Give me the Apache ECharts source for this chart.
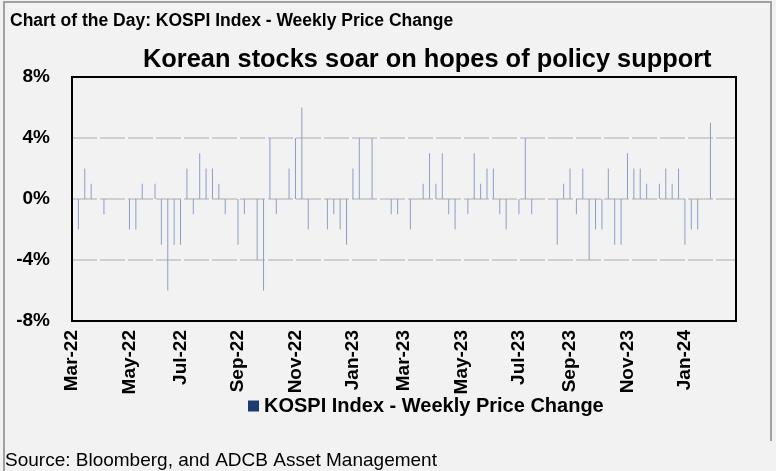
<!DOCTYPE html>
<html>
<head>
<meta charset="utf-8">
<script src="https://cdn.jsdelivr.net/npm/echarts@6/dist/echarts.min.js"></script>
<style>
  html, body { margin: 0; padding: 0; background: #f2f2f2; }
  #chart { width: 776px; height: 471px; }
</style>
</head>
<body>
<div id="chart"></div>
<script>
// weekly KOSPI change (%), Fridays from 4 Mar 2022
let firstWeek = '2022-03-04';
let weekCount = 105;   // axis runs to 1 Mar 2024
let weeklyChange = [
  0, -2, 2, 1, 0, -1, 0, 0, 0, -2,
  -2, 1, 0, 1, -3, -6, -3, -3, 2, -1,
  3, 2, 2, 1, -1, 0, -3, -1, 0, -4,
  -6, 4, -1, 0, 2, 4, 6, -2, 0, 0,
  -2, -1, -2, -3, 2, 4, 0, 4, 0, 0,
  -1, -1, 0, -2, 0, 1, 3, 1, 3, -1,
  -2, 0, -1, 3, 1, 2, 2, -1, -2, 0,
  -1, 4, -1, 0, 0, 0, -3, 1, 2, -1,
  2, -4, -2, -2, 2, -3, -3, 3, 2, 2,
  1, 0, 1, 2, 1, 2, -3, -2, -2, 0,
  5
];
let tickWeeks = ['2022-03-04','2022-05-06','2022-07-01','2022-09-02','2022-11-04','2023-01-06',
                 '2023-03-03','2023-05-05','2023-07-07','2023-09-01','2023-11-03','2024-01-05'];
let tickLabels = ['Mar-22','May-22','Jul-22','Sep-22','Nov-22','Jan-23',
                  'Mar-23','May-23','Jul-23','Sep-23','Nov-23','Jan-24'];
let yTicks = [-8, -4, 0, 4, 8];

let seriesName = 'KOSPI Index - Weekly Price Change';
let font = "'Liberation Sans', Arial, sans-serif";

let weeks = [];
let t0 = Date.parse(firstWeek + 'T00:00:00Z');
for (let i = 0; i < weekCount; i++) {
  weeks.push(new Date(t0 + i * 7 * 86400000).toISOString().slice(0, 10));
}

let myChart = echarts.init(document.getElementById('chart'));

myChart.setOption({
  backgroundColor: '#f2f2f2',
  animation: false,
  textStyle: { fontFamily: font },
  title: [
    {
      text: 'Chart of the Day: KOSPI Index - Weekly Price Change',
      left: 10, top: 12, padding: 0,
      textStyle: { fontSize: 17.5, fontWeight: 'bold', color: '#000', fontFamily: font }
    },
    {
      text: 'Korean stocks soar on hopes of policy support',
      left: 143, top: 47, padding: 0,
      textStyle: { fontSize: 25.4, fontWeight: 'bold', color: '#000', fontFamily: font }
    },
    {
      text: 'Source: Bloomberg, and ADCB Asset Management',
      left: 5, top: 451, padding: 0,
      textStyle: { fontSize: 19, fontWeight: 'normal', color: '#000', fontFamily: font }
    }
  ],
  legend: {
    data: [{ name: seriesName, itemStyle: { color: '#1f3a70' } }],
    left: 248, top: 396, padding: 0,
    icon: 'rect',
    itemWidth: 11, itemHeight: 11, itemGap: 4,
    textStyle: { fontSize: 20, fontWeight: 'bold', color: '#000', fontFamily: font }
  },
  grid: { left: 72, right: 40, top: 77, bottom: 150, containLabel: false },
  xAxis: {
    type: 'category',
    data: weeks,
    boundaryGap: false,
    axisLine: { show: false },
    axisTick: { show: false },
    splitLine: { show: false },
    axisLabel: {
      rotate: 90,
      margin: 9,
      fontSize: 19,
      fontWeight: 'bold',
      color: '#000',
      interval: (index, value) => tickWeeks.indexOf(value) >= 0,
      formatter: (value) => tickLabels[tickWeeks.indexOf(value)]
    }
  },
  yAxis: {
    type: 'value',
    min: yTicks[0],
    max: yTicks[yTicks.length - 1],
    interval: 4,
    axisLine: { show: false },
    axisTick: { show: false },
    axisLabel: {
      margin: 22,
      fontSize: 19,
      fontWeight: 'bold',
      color: '#000',
      formatter: '{value}%'
    },
    splitLine: {
      lineStyle: { color: '#cfcfcf', width: 2, type: [25, 3] }
    }
  },
  series: [{
    name: seriesName,
    type: 'bar',
    barWidth: 1,
    itemStyle: { color: '#8a9fc6' },
    data: weeklyChange
  }],
  graphic: [
    // plot frame
    { type: 'rect', z: 100, shape: { x: 72, y: 77, width: 664, height: 244 },
      style: { fill: null, stroke: '#000', lineWidth: 2 } },
    // outer chart border
    { type: 'polyline', z: 100, shape: { points: [[4, 471], [4, 2], [771, 2], [771, 441]] },
      style: { fill: null, stroke: '#a0a0a0', lineWidth: 2 } }
  ]
});
</script>
</body>
</html>
